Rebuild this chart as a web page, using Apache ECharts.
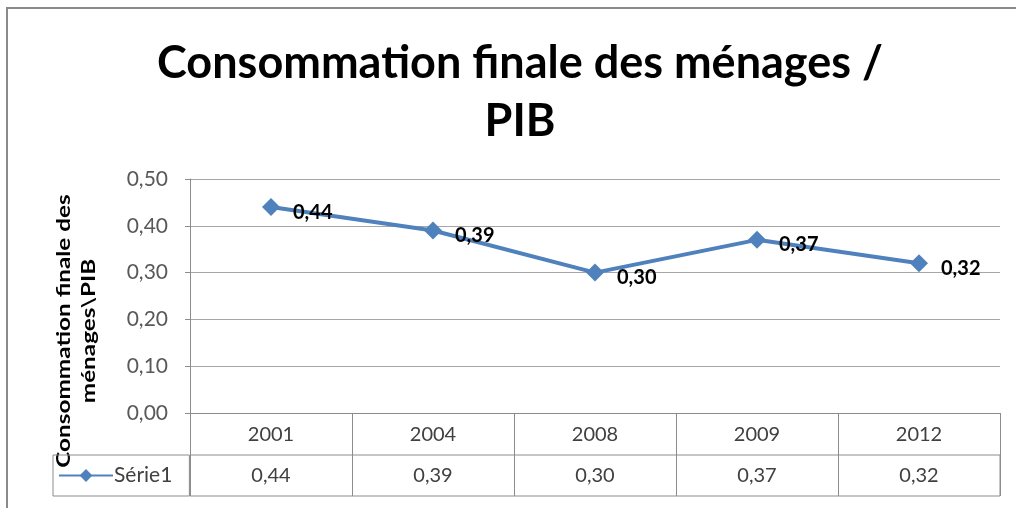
<!DOCTYPE html>
<html>
<head>
<meta charset="utf-8">
<script src="https://cdn.jsdelivr.net/npm/echarts@6/dist/echarts.min.js"></script>
<style>
html,body{margin:0;padding:0;background:#fff;}
#c{width:1016px;height:508px;}
</style>
</head>
<body>
<div id="c"></div>
<script>
const titleLines = ['Consommation finale des ménages /', 'PIB'];
const yAxisTitle = ['Consommation finale des', 'ménages\\PIB'];
const seriesName = 'Série1';
const categories = ['2001', '2004', '2008', '2009', '2012'];
const values = [0.44, 0.39, 0.30, 0.37, 0.32];
const yTicks = {min: 0, max: 0.5, interval: 0.1};

const fmt = v => Number(v).toFixed(2).replace('.', ',');
const FONT = 'Lato, "Open Sans", sans-serif';
const LINE = '#8c8c8c';
const BLUE = '#4F81BD';

const chart = echarts.init(document.getElementById('c'), null, {renderer: 'canvas'});
chart.setOption({
  animation: false,
  backgroundColor: '#fff',
  title: {
    text: titleLines.join('\n'),
    left: 520,
    top: 34,
    padding: 0,
    textAlign: 'center',
    textStyle: {fontFamily: FONT, fontWeight: 'bold', fontSize: 45, lineHeight: 58, color: '#000'}
  },
  legend: {
    data: [seriesName],
    left: 53,
    top: 455,
    orient: 'horizontal',
    itemWidth: 54,
    itemHeight: 16,
    itemGap: 0,
    padding: [10, 17, 10, 5],
    borderColor: LINE,
    borderWidth: 1,
    textStyle: {fontFamily: FONT, fontSize: 21, color: '#404040', padding: [0, 0, 0, -4]}
  },
  graphic: [
    {type: 'rect', silent: true, z: -1,
     shape: {x: 7, y: 8, width: 1040, height: 540},
     style: {fill: 'none', stroke: '#8a8a8a', lineWidth: 2}},
    {type: 'text', rotation: Math.PI / 2, x: 76, y: 331, scaleX: 1.28,
     style: {text: yAxisTitle.join('\n'), fontFamily: FONT, fontWeight: 'bold', fontSize: 19, lineHeight: 25,
             fill: '#000', align: 'center', verticalAlign: 'middle'}}
  ],
  grid: [
    {left: 190, right: 16, top: 179, height: 234},
    {left: 190, right: 16, top: 455, height: 41, show: true, borderColor: LINE, borderWidth: 1, backgroundColor: 'transparent'}
  ],
  xAxis: [
    {type: 'category', gridIndex: 0, data: categories, boundaryGap: true,
     axisLine: {show: true, lineStyle: {color: LINE, width: 1}},
     axisTick: {show: true, length: 83, lineStyle: {color: LINE, width: 1}},
     axisLabel: {margin: 12, fontFamily: FONT, fontSize: 20, color: '#404040'},
     splitLine: {show: false}},
    {type: 'category', gridIndex: 1, data: values.map(fmt), position: 'top', boundaryGap: true,
     axisLine: {show: false}, axisTick: {show: false},
     axisLabel: {inside: true, margin: 11, fontFamily: FONT, fontSize: 20, color: '#404040'},
     splitLine: {show: false}}
  ],
  yAxis: [
    {type: 'value', gridIndex: 0, min: yTicks.min, max: yTicks.max, interval: yTicks.interval,
     axisLine: {show: true, lineStyle: {color: LINE}},
     axisTick: {show: true, length: 5, lineStyle: {color: LINE}},
     axisLabel: {margin: 22, formatter: fmt, fontFamily: FONT, fontSize: 21, color: '#595959'},
     splitLine: {show: true, lineStyle: {color: '#a6a6a6', width: 1}}},
    {type: 'value', gridIndex: 1, show: false}
  ],
  series: [{
    name: seriesName,
    type: 'line',
    xAxisIndex: 0,
    yAxisIndex: 0,
    data: values,
    symbol: 'diamond',
    symbolSize: 18,
    lineStyle: {color: BLUE, width: 4},
    itemStyle: {color: BLUE},
    label: {show: true, position: 'right', distance: 13, offset: [0, 5], formatter: p => fmt(p.value),
            fontFamily: FONT, fontWeight: 'bold', fontSize: 20, color: '#000'}
  }]
});
</script>
</body>
</html>
